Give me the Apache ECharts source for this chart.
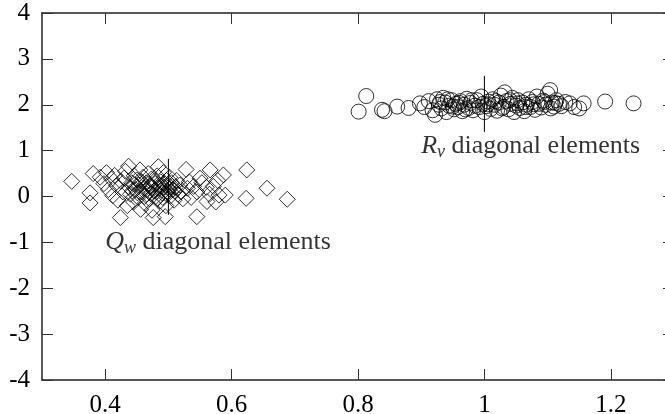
<!DOCTYPE html>
<html>
<head>
<meta charset="utf-8">
<script src="https://cdn.jsdelivr.net/npm/echarts@6/dist/echarts.min.js"></script>
<style>
  html, body { margin: 0; padding: 0; background: #fff; }
  #chart { width: 665px; height: 414px; }
</style>
</head>
<body>
<div id="chart"></div>
<script>
// Q_w diagonal elements (diamonds).
const qPoints = [
  [0.347, 0.33], [0.376, 0.08], [0.376, -0.14], [0.381, 0.50], [0.392, 0.42], [0.398, 0.28],
  [0.402, 0.52], [0.405, 0.15], [0.410, 0.38], [0.412, 0.02], [0.415, 0.46], [0.418, 0.24],
  [0.420, -0.08], [0.424, -0.46], [0.425, 0.33], [0.428, 0.10], [0.430, 0.40], [0.432, 0.55],
  [0.435, -0.20], [0.437, 0.66], [0.438, 0.20], [0.440, 0.05], [0.442, 0.30], [0.445, -0.12],
  [0.446, 0.45], [0.448, 0.15], [0.450, 0.36], [0.452, -0.02], [0.453, 0.25], [0.455, 0.58],
  [0.456, -0.28], [0.458, 0.10], [0.460, 0.42], [0.461, 0.18], [0.463, -0.15], [0.465, 0.30],
  [0.466, 0.05], [0.468, 0.50], [0.470, -0.05], [0.471, 0.22], [0.473, 0.38], [0.474, -0.30],
  [0.476, -0.46], [0.477, 0.12], [0.479, 0.28], [0.480, 0.00], [0.482, 0.45], [0.484, 0.65],
  [0.485, 0.18], [0.487, -0.10], [0.488, 0.32], [0.490, 0.08], [0.492, 0.52], [0.493, 0.20],
  [0.495, -0.44], [0.496, -0.20], [0.497, 0.35], [0.499, 0.10], [0.500, 0.25], [0.502, 0.42],
  [0.504, 0.02], [0.505, 0.30], [0.507, 0.15], [0.509, -0.08], [0.511, 0.20], [0.513, 0.35],
  [0.515, 0.05], [0.518, 0.25], [0.520, 0.10], [0.523, -0.05], [0.528, 0.59], [0.530, 0.18],
  [0.533, 0.32], [0.536, -0.02], [0.540, 0.22], [0.545, -0.44], [0.545, 0.10], [0.550, 0.40],
  [0.553, 0.30], [0.561, -0.11], [0.560, 0.20], [0.566, 0.58], [0.565, 0.05], [0.571, 0.22],
  [0.575, -0.12], [0.578, 0.35], [0.587, 0.47], [0.580, 0.03], [0.590, 0.03], [0.624, 0.58],
  [0.623, -0.04], [0.656, 0.18], [0.688, -0.06],
  [0.443, 0.12], [0.447, 0.26], [0.451, 0.08], [0.457, 0.33], [0.462, 0.00], [0.467, 0.16],
  [0.469, 0.28], [0.472, 0.06], [0.475, 0.20], [0.478, 0.34], [0.481, 0.10], [0.483, -0.04],
  [0.486, 0.24], [0.489, 0.14], [0.491, -0.02], [0.494, 0.28], [0.498, 0.04], [0.501, 0.16],
  [0.506, 0.22], [0.510, 0.12]
];

// R_v diagonal elements (circles).
const rPoints = [
  [0.801, 1.85], [0.813, 2.19], [0.838, 1.89], [0.842, 1.86], [0.862, 1.96], [0.880, 1.93],
  [0.898, 2.03], [0.905, 1.95], [0.912, 2.08], [0.918, 1.88], [0.922, 1.78], [0.925, 2.12],
  [0.928, 2.00], [0.932, 1.92], [0.935, 2.15], [0.938, 2.05], [0.940, 1.84], [0.944, 1.98],
  [0.948, 2.10], [0.952, 1.90], [0.955, 2.02], [0.958, 1.95], [0.962, 2.08], [0.965, 1.86],
  [0.968, 2.00], [0.972, 2.13], [0.975, 1.93], [0.978, 2.04], [0.982, 1.88], [0.985, 1.98],
  [0.988, 2.10], [0.992, 1.95], [0.995, 2.18], [0.998, 2.02], [1.000, 1.84], [1.003, 1.97],
  [1.006, 2.07], [1.010, 1.91], [1.013, 2.12], [1.016, 2.00], [1.020, 1.87], [1.023, 2.05],
  [1.026, 2.20], [1.030, 1.95], [1.032, 2.27], [1.035, 2.08], [1.038, 1.90], [1.041, 2.02],
  [1.044, 2.15], [1.047, 1.84], [1.050, 1.98], [1.053, 2.10], [1.056, 1.93], [1.060, 2.05],
  [1.063, 1.86], [1.066, 2.00], [1.070, 2.12], [1.073, 1.95], [1.076, 2.06], [1.080, 1.89],
  [1.083, 2.18], [1.086, 2.02], [1.090, 1.94], [1.093, 2.09], [1.097, 2.00], [1.100, 2.24],
  [1.104, 2.32], [1.107, 2.05], [1.110, 1.96], [1.114, 2.10], [1.118, 2.02], [1.122, 1.97],
  [1.128, 2.06], [1.135, 2.03], [1.142, 1.95], [1.150, 1.92], [1.157, 2.03], [1.191, 2.07],
  [1.236, 2.03],
  [0.930, 2.06], [0.942, 2.12], [0.950, 1.96], [0.960, 2.04], [0.970, 1.90], [0.980, 2.10],
  [1.005, 2.01], [1.018, 2.08], [1.028, 1.92], [1.040, 2.10], [1.052, 2.03], [1.065, 1.95],
  [1.078, 2.01], [1.095, 2.06], [1.105, 1.92], [1.112, 2.04]
];

// Short vertical marks through each cluster.
const qMark = [[0.5, -0.40], [0.5, 0.82]];
const rMark = [[1.0, 1.41], [1.0, 2.63]];

// Text annotations, anchored at the left end of the text.
const qLabelAt = [0.4, -1.0];
const rLabelAt = [0.9, 1.1];

const xTicks = [0.4, 0.6, 0.8, 1, 1.2];

const FONT = '"Liberation Serif", "DejaVu Serif", serif';
const INK = '#000';

const chart = echarts.init(document.getElementById('chart'), null, { renderer: 'canvas' });

function tickStyle(extra) {
  return Object.assign({ show: true, inside: true, length: 11, lineStyle: { color: '#333', width: 1 } }, extra);
}

function frameAxis(extra) {
  return Object.assign({
    type: 'value',
    axisLine: { show: true, onZero: false, lineStyle: { color: '#222', width: 1.5 } },
    axisTick: tickStyle(),
    axisLabel: { show: false },
    splitLine: { show: false },
  }, extra);
}

function annotation(at, letter, sub) {
  return {
    type: 'scatter',
    xAxisIndex: 0, yAxisIndex: 0,
    symbolSize: 0,
    silent: true,
    data: [at],
    label: {
      show: true,
      position: 'right',
      distance: 0,
      formatter: '{v|' + letter + '}{s|' + sub + '}{t| diagonal elements}',
      rich: {
        v: { fontFamily: FONT, fontSize: 26, fontStyle: 'italic', color: INK },
        s: { fontFamily: FONT, fontSize: 18, fontStyle: 'italic', color: INK, padding: [12, 0, 0, 0] },
        t: { fontFamily: FONT, fontSize: 26, color: INK },
      },
    },
  };
}

chart.setOption({
  animation: false,
  backgroundColor: '#fff',
  grid: { left: 42, right: -9, top: 13, bottom: 34, outerBoundsMode: 'none', containLabel: false },
  xAxis: [
    frameAxis({
      min: 0.3, max: 1.3, interval: 0.1, position: 'bottom',
      axisLabel: {
        show: true, margin: 13, fontFamily: FONT, fontSize: 25, color: INK,
        customValues: xTicks,
        formatter: function (v) { return String(+v.toFixed(1)); },
      },
      axisTick: tickStyle({ customValues: xTicks }),
    }),
    frameAxis({
      min: 0.3, max: 1.3, position: 'top',
      axisTick: tickStyle({ customValues: xTicks }),
    }),
  ],
  yAxis: [
    frameAxis({
      min: -4, max: 4, interval: 1, position: 'left',
      axisLabel: {
        show: true, margin: 12, fontFamily: FONT, fontSize: 25, color: INK,
        formatter: function (v) { return String(v).replace('\u2212', '-'); },
      },
    }),
    frameAxis({
      min: -4, max: 4, interval: 1, position: 'right',
      axisLine: { show: false, onZero: false },
    }),
  ],
  series: [
    {
      type: 'scatter',
      name: 'Qw',
      symbol: 'diamond',
      symbolSize: 16,
      itemStyle: { color: 'rgba(0,0,0,0)', borderColor: INK, borderWidth: 1 },
      data: qPoints,
      z: 3,
    },
    {
      type: 'scatter',
      name: 'Rv',
      symbol: 'circle',
      symbolSize: 15,
      itemStyle: { color: 'rgba(0,0,0,0)', borderColor: INK, borderWidth: 1 },
      data: rPoints,
      z: 3,
    },
    {
      type: 'line', data: qMark, symbol: 'none', silent: true,
      lineStyle: { color: INK, width: 1 }, z: 4,
    },
    {
      type: 'line', data: rMark, symbol: 'none', silent: true,
      lineStyle: { color: INK, width: 1 }, z: 4,
    },
    annotation(qLabelAt, 'Q', 'w'),
    annotation(rLabelAt, 'R', 'v'),
  ],
});
</script>
</body>
</html>
